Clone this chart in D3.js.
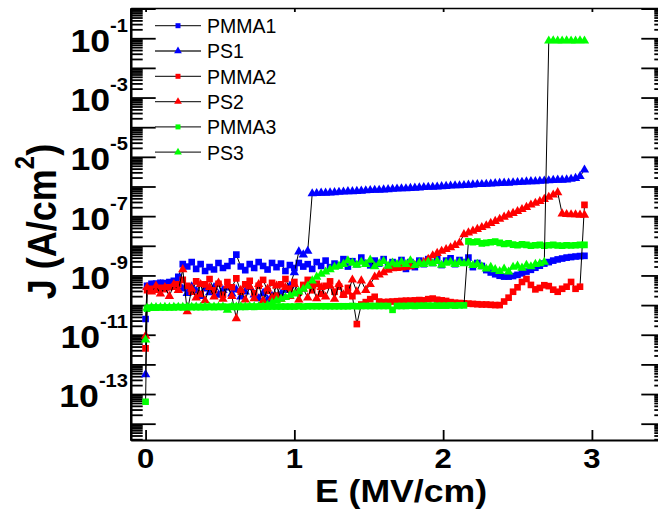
<!DOCTYPE html>
<html><head><meta charset="utf-8">
<script src="https://cdn.jsdelivr.net/npm/d3@7"></script>
<style>body{margin:0;background:#fff;} svg{display:block;font-family:"Liberation Sans",Arial,Helvetica,sans-serif;}</style>
</head><body>
<svg id="c" width="658" height="516"></svg>
<script>
// Electric field grid (MV/cm)
const E = [0, 0.01, 0.04, 0.07, 0.10, 0.13, 0.16, 0.19, 0.22, 0.25, 0.28, 0.31, 0.34, 0.37, 0.40, 0.43, 0.46, 0.49, 0.52, 0.55,
  0.58, 0.61, 0.64, 0.67, 0.70, 0.73, 0.76, 0.79, 0.82, 0.85, 0.88, 0.91, 0.94, 0.97, 1.00, 1.03, 1.06, 1.09, 1.12, 1.15,
  1.18, 1.21, 1.24, 1.27, 1.30, 1.33, 1.36, 1.39, 1.42, 1.45, 1.48, 1.51, 1.54, 1.57, 1.60, 1.63, 1.66, 1.69, 1.72, 1.75,
  1.78, 1.81, 1.84, 1.87, 1.90, 1.93, 1.96, 1.99, 2.02, 2.05, 2.08, 2.11, 2.14, 2.17, 2.20, 2.23, 2.26, 2.29, 2.32, 2.35,
  2.38, 2.41, 2.44, 2.47, 2.50, 2.53, 2.56, 2.59, 2.62, 2.65, 2.68, 2.71, 2.74, 2.77, 2.80, 2.83, 2.86, 2.89, 2.92, 2.95];

// log10 of J (A/cm^2) for each series
const PMMA1_logJ = [-10.47, -9.35, -9.28, -9.27, -9.25, -9.26, -9.22, -9.18, -9.05, -8.62, -8.70, -8.55, -8.78, -8.62, -8.85, -8.72, -8.80, -8.58, -8.75, -8.68,
  -8.52, -8.30, -8.70, -8.82, -8.62, -8.75, -8.55, -8.68, -8.80, -8.58, -8.72, -8.60, -8.85, -8.65, -8.75, -8.58, -8.70, -8.62, -8.78, -8.55,
  -8.68, -8.50, -8.72, -8.60, -8.66, -8.45, -8.70, -8.52, -8.62, -8.40, -8.58, -8.66, -8.50, -8.60, -8.45, -8.68, -8.55, -8.62, -8.48, -8.78,
  -8.55, -8.72, -8.50, -8.62, -8.45, -8.58, -8.40, -8.65, -8.50, -8.42, -8.62, -8.48, -8.55, -8.40, -8.72, -8.58, -8.68, -8.82, -8.90, -8.96,
  -9.01, -9.04, -9.04, -9.02, -8.98, -8.93, -8.87, -8.81, -8.74, -8.67, -8.60, -8.55, -8.50, -8.46, -8.43, -8.40, -8.38, -8.36, -8.35, -8.34];
const PS1_logJ = [-12.34, -9.40, -9.35, -9.38, -9.30, -9.42, -9.36, -9.33, -9.28, -9.45, -9.60, -9.38, -9.52, -9.70, -9.45, -9.58, -9.40, -9.66, -9.50, -9.42,
  -9.62, -9.48, -9.72, -9.55, -9.40, -9.65, -9.78, -9.60, -9.82, -9.70, -9.75, -9.62, -9.50, -9.35, -8.90, -8.20, -8.30, -8.18, -6.24, -6.23,
  -6.22, -6.22, -6.21, -6.20, -6.19, -6.18, -6.17, -6.17, -6.16, -6.15, -6.14, -6.13, -6.12, -6.12, -6.11, -6.10, -6.09, -6.08, -6.07, -6.07,
  -6.06, -6.05, -6.04, -6.03, -6.02, -6.02, -6.01, -6.00, -5.99, -5.98, -5.97, -5.97, -5.96, -5.95, -5.94, -5.93, -5.93, -5.92, -5.91, -5.90,
  -5.89, -5.88, -5.88, -5.87, -5.86, -5.85, -5.84, -5.83, -5.83, -5.82, -5.81, -5.80, -5.79, -5.78, -5.78, -5.77, -5.75, -5.72, -5.66, -5.44];
const PMMA2_logJ = [-11.46, -9.50, -9.45, -9.48, -9.42, -9.46, -9.40, -9.38, -9.30, -9.15, -9.35, -9.55, -9.20, -9.62, -9.30, -9.12, -9.50, -9.28, -9.65, -9.22,
  -9.40, -9.10, -9.55, -9.30, -9.18, -9.60, -9.35, -9.15, -9.52, -9.25, -9.68, -9.30, -9.12, -9.45, -9.22, -9.58, -9.32, -9.15, -9.50, -9.28,
  -9.62, -9.35, -9.20, -9.55, -9.38, -9.65, -9.42, -9.70, -10.64, -9.98, -9.90, -9.80, -9.72, -9.88, -9.90, -9.89, -9.88, -9.87, -9.86, -9.85,
  -9.85, -9.84, -9.83, -9.84, -9.80, -9.78, -9.82, -9.84, -9.86, -9.90, -9.92, -9.93, -9.94, -9.95, -9.96, -9.97, -9.98, -9.98, -9.99, -10.00,
  -10.00, -9.88, -9.75, -9.55, -9.40, -9.22, -9.12, -9.32, -9.47, -9.42, -9.33, -9.36, -9.48, -9.55, -9.45, -9.38, -9.22, -9.45, -9.38, -6.62];
const PS2_logJ = [-11.04, -9.40, -9.55, -9.35, -9.62, -9.40, -9.70, -9.30, -9.50, -8.80, -10.22, -9.45, -9.75, -9.30, -9.85, -9.40, -9.72, -9.25, -9.80, -9.35,
  -9.70, -10.45, -9.50, -9.82, -9.38, -9.78, -9.30, -9.85, -9.45, -9.75, -9.35, -9.80, -9.40, -9.70, -9.30, -9.82, -9.45, -9.75, -9.35, -9.78,
  -9.40, -9.72, -9.35, -9.80, -9.30, -9.65, -9.55, -9.15, -9.55, -9.18, -9.50, -9.30, -9.05, -8.98, -8.90, -8.82, -8.77, -8.76, -8.74, -8.72,
  -8.70, -8.66, -8.60, -8.55, -8.45, -8.33, -8.25, -8.18, -8.12, -8.06, -7.98, -7.90, -7.62, -7.56, -7.50, -7.44, -7.38, -7.32, -7.24, -7.17,
  -7.10, -7.03, -6.96, -6.90, -6.84, -6.77, -6.70, -6.62, -6.56, -6.50, -6.43, -6.36, -6.28, -6.20, -6.92, -6.94, -6.95, -6.95, -6.96, -6.96];
const PMMA3_logJ = [-13.26, -10.12, -10.09, -10.09, -10.08, -10.08, -10.08, -10.08, -10.07, -10.08, -10.07, -10.07, -10.07, -10.07, -10.07, -10.06, -10.07, -10.06, -10.06, -10.06,
  -10.06, -10.06, -10.06, -10.06, -10.05, -10.06, -10.05, -10.05, -10.05, -10.05, -10.05, -10.05, -10.05, -10.05, -10.05, -10.04, -10.05, -10.04, -10.04, -10.04,
  -10.04, -10.04, -10.04, -10.04, -10.04, -10.04, -10.04, -10.03, -10.04, -10.03, -10.03, -10.03, -10.03, -10.03, -10.03, -10.03, -10.16, -10.03, -10.03, -10.03,
  -10.02, -10.03, -10.02, -10.02, -10.02, -10.02, -10.02, -10.02, -10.02, -10.01, -10.02, -10.01, -10.01, -7.85, -7.88, -7.86, -7.92, -7.90, -7.88, -7.86,
  -7.90, -7.94, -7.92, -7.96, -7.98, -7.95, -7.97, -8.00, -7.98, -7.97, -8.00, -7.98, -7.97, -7.99, -8.00, -7.98, -7.99, -7.98, -7.97, -7.97];
const PS3_logJ = [-11.17, -10.10, -10.08, -10.08, -10.08, -10.07, -10.08, -10.07, -10.07, -10.07, -10.07, -10.07, -10.06, -10.07, -10.06, -10.06, -10.06, -10.06, -10.06, -10.17,
  -10.06, -10.06, -10.05, -10.06, -10.05, -10.05, -10.05, -10.05, -10.00, -9.92, -9.85, -9.80, -9.74, -9.68, -9.62, -9.55, -9.46, -9.36, -9.18, -9.05,
  -8.95, -8.88, -8.80, -8.72, -8.68, -8.62, -8.50, -8.58, -8.65, -8.55, -8.62, -8.48, -8.70, -8.60, -8.52, -8.68, -8.58, -8.63, -8.55, -8.62,
  -8.50, -8.66, -8.58, -8.62, -8.55, -8.60, -8.52, -8.65, -8.58, -8.55, -8.62, -8.56, -8.60, -8.58, -8.66, -8.62, -8.70, -8.78, -8.72, -8.80,
  -8.86, -8.78, -8.88, -8.72, -8.68, -8.75, -8.65, -8.70, -8.62, -8.60, -8.55, -1.09, -1.08, -1.09, -1.09, -1.08, -1.09, -1.09, -1.08, -1.09];

const seriesNames = ["PMMA1", "PS1", "PMMA2", "PS2", "PMMA3", "PS3"];
const seriesData = [PMMA1_logJ, PS1_logJ, PMMA2_logJ, PS2_logJ, PMMA3_logJ, PS3_logJ];
const seriesColors = ["#0000ff", "#0000ff", "#ff0000", "#ff0000", "#00ff00", "#00ff00"];
const seriesShapes = ["square", "triangle", "square", "triangle", "square", "triangle"];
const xTickValues = [0, 1, 2, 3];
const yLabelExponents = [-1, -3, -5, -7, -9, -11, -13];

const svg = d3.select("#c");
const L = 130.7, R = 666.3, T = 8, B = 440;
const x = d3.scaleLinear().domain([-0.1, 3.5]).range([L, R]);
const y = d3.scaleLog().domain([Math.pow(10, -14.55), Math.pow(10, 0.02)]).range([B, T]);
const SX = 1.15; // horizontal stretch of the bold labels

// tick values
const majorY = [], minorY = [];
for (let d = -15; d <= 0; d++) {
  const v = Math.pow(10, d);
  if (v >= y.domain()[0] && v <= y.domain()[1]) majorY.push(v);
  for (let m = 2; m <= 9; m++) {
    const w = m * Math.pow(10, d);
    if (w >= y.domain()[0] && w <= y.domain()[1]) minorY.push(w);
  }
}

function styleAxis(g, w) {
  g.selectAll("path.domain").attr("stroke", "#000").attr("stroke-width", w);
  g.selectAll(".tick line").attr("stroke", "#000").attr("stroke-width", 1.8);
  g.selectAll(".tick text").remove();
}

// left axis
svg.append("g").attr("transform", `translate(${L},0)`)
  .call(d3.axisLeft(y).tickValues(minorY).tickSize(-12).tickSizeOuter(0).tickFormat(""))
  .call(g => styleAxis(g, 2.2));
svg.append("g").attr("transform", `translate(${L},0)`)
  .call(d3.axisLeft(y).tickValues(majorY).tickSize(-25).tickSizeOuter(0).tickFormat(""))
  .call(g => styleAxis(g, 2.2));
// right axis
svg.append("g").attr("transform", `translate(${R},0)`)
  .call(d3.axisRight(y).tickValues(minorY).tickSize(-12).tickSizeOuter(0).tickFormat(""))
  .call(g => styleAxis(g, 2.2));
svg.append("g").attr("transform", `translate(${R},0)`)
  .call(d3.axisRight(y).tickValues(majorY).tickSize(-25).tickSizeOuter(0).tickFormat(""))
  .call(g => styleAxis(g, 2.2));
// bottom axis
svg.append("g").attr("transform", `translate(0,${B})`)
  .call(d3.axisBottom(x).tickValues(xTickValues).tickSize(-10).tickSizeOuter(0).tickFormat(""))
  .call(g => styleAxis(g, 2.2));
// top axis
svg.append("g").attr("transform", `translate(0,${T})`)
  .call(d3.axisTop(x).tickValues(xTickValues).tickSize(-4).tickSizeOuter(0).tickFormat(""))
  .call(g => styleAxis(g, 1.4));

// y tick labels
yLabelExponents.forEach(e => {
  const g = svg.append("g").attr("transform", `translate(128,${y(Math.pow(10, e)) + 13.4}) scale(${SX},1)`);
  const t = g.append("text").attr("text-anchor", "end").attr("font-weight", "bold").attr("fill", "#000");
  t.append("tspan").attr("font-size", 31).text("10");
  t.append("tspan").attr("font-size", 17.5).attr("dy", -20).text(String(e));
});
// x tick labels
xTickValues.forEach(v => {
  svg.append("g").attr("transform", `translate(${x(v)},468) scale(${SX},1)`)
    .append("text").attr("text-anchor", "middle").attr("font-weight", "bold")
    .attr("font-size", 27).text(String(v));
});
// axis titles
svg.append("g").attr("transform", `translate(401,502) scale(${SX},1)`)
  .append("text").attr("text-anchor", "middle").attr("font-weight", "bold")
  .attr("font-size", 31).text("E (MV/cm)");
const yt = svg.append("g").attr("transform", `translate(56,221.5) scale(${SX},1) rotate(-90)`)
  .append("text").attr("text-anchor", "middle").attr("font-weight", "bold").attr("font-size", 36);
yt.append("tspan").text("J (A/cm");
yt.append("tspan").attr("font-size", 24).attr("dy", -19).text("2");
yt.append("tspan").attr("dy", 19).text(")");

// data
svg.append("clipPath").attr("id", "clip").append("rect")
  .attr("x", L).attr("y", T).attr("width", R - L).attr("height", B - T);
const plot = svg.append("g").attr("clip-path", "url(#clip)");
const line = d3.line().x(d => x(d[0])).y(d => y(d[1]));
const sq = d3.symbol().type(d3.symbolSquare).size(44);
const tri = d3.symbol().type(d3.symbolTriangle).size(38);

seriesData.forEach((vals, k) => {
  const pts = vals.map((v, i) => [E[i], Math.pow(10, v)]);
  plot.append("path").datum(pts).attr("d", line)
    .attr("fill", "none").attr("stroke", "#000").attr("stroke-width", 1);
  plot.append("g").selectAll("path").data(pts).join("path")
    .attr("transform", d => `translate(${x(d[0])},${y(d[1])})`)
    .attr("d", seriesShapes[k] === "square" ? sq() : tri())
    .attr("fill", seriesColors[k]);
});

// legend
seriesNames.forEach((name, k) => {
  const cy = 25.7 + k * 25.3;
  const g = svg.append("g");
  g.append("line").attr("x1", 155).attr("x2", 201).attr("y1", cy).attr("y2", cy)
    .attr("stroke", "#333").attr("stroke-width", 1.3);
  g.append("path").attr("transform", `translate(178,${cy})`)
    .attr("d", seriesShapes[k] === "square" ? d3.symbol().type(d3.symbolSquare).size(25)() : d3.symbol().type(d3.symbolTriangle).size(26)())
    .attr("fill", seriesColors[k]);
  g.append("text").attr("x", 207).attr("y", cy + 7.3).attr("font-size", 19.5).attr("fill", "#000").text(name);
});
</script>
</body></html>
